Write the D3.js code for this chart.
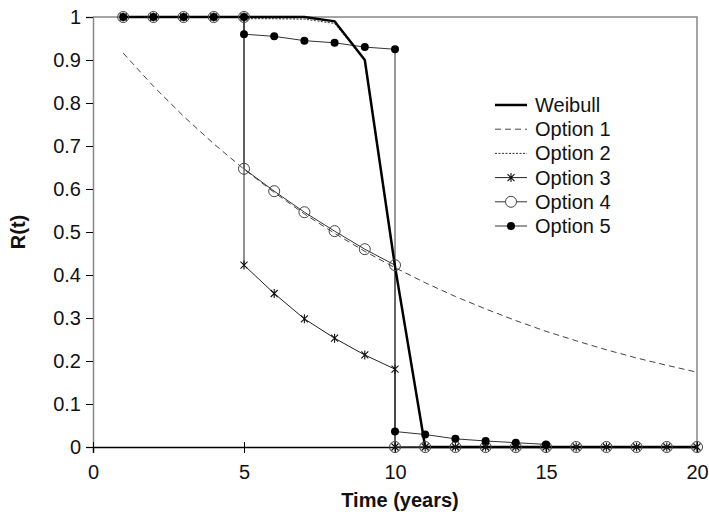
<!DOCTYPE html>
<html><head><meta charset="utf-8">
<script src="https://cdn.jsdelivr.net/npm/d3@7"></script>
<style>body{margin:0;background:#fff;} svg{display:block;font-family:"Liberation Sans",Arial,sans-serif;}</style>
</head><body><svg id="c" width="709" height="516"></svg>
<script>
// ---- data ----
const years = [1,2,3,4,5,6,7,8,9,10,11,12,13,14,15,16,17,18,19,20];
const weibull = [1,1,1,1,1,1,1,0.99,0.90,0.42,0,0,0,0,0,0,0,0,0,0];
const option1 = [0.916,0.839,0.769,0.705,0.646,0.592,0.542,0.497,0.455,0.417,0.382,0.350,0.321,0.294,0.269,0.247,0.226,0.207,0.190,0.174];
const option2T = [5,6,7,8,9,10,11,12,13,14,15,16,17,18,19,20];
const option2 = [0.996,0.996,0.995,0.985,0.90,0.42,0,0,0,0,0,0,0,0,0,0];
const option3T = [1,2,3,4,5,5,6,7,8,9,10,10,11,12,13,14,15,16,17,18,19,20];
const option3 = [1,1,1,1,1,0.423,0.357,0.298,0.253,0.214,0.181,0,0,0,0,0,0,0,0,0,0,0];
const option4T = [1,2,3,4,5,5,6,7,8,9,10,10,11,12,13,14,15,16,17,18,19,20];
const option4 = [1,1,1,1,1,0.647,0.595,0.546,0.502,0.460,0.423,0,0,0,0,0,0,0,0,0,0,0];
const option5T = [1,2,3,4,5,5,6,7,8,9,10,10,11,12,13,14,15];
const option5 = [1,1,1,1,1,0.960,0.955,0.945,0.940,0.930,0.925,0.036,0.029,0.019,0.014,0.010,0.006];
const xTicks = [0,5,10,15,20];
const yTicks = [0,0.1,0.2,0.3,0.4,0.5,0.6,0.7,0.8,0.9,1];
const legendLabels = ["Weibull","Option 1","Option 2","Option 3","Option 4","Option 5"];

// ---- layout ----
const svg = d3.select("#c");
const L=93, R=697, T=17, B=447;
const x = d3.scaleLinear().domain([0,20]).range([L,R]);
const y = d3.scaleLinear().domain([0,1]).range([B,T]);
const fs = 20;
const ff = "Liberation Sans, Arial, sans-serif";

// border top/right
svg.append("path").attr("d",`M${L},${T}H${R}V${B}`).attr("fill","none").attr("stroke","#888").attr("stroke-width",1.5);

// axes
const yAxis = svg.append("g").attr("transform",`translate(${L},0)`)
  .call(d3.axisLeft(y).tickValues(yTicks).tickSize(7).tickPadding(5).tickFormat(d=>String(+d.toFixed(1))));
yAxis.select(".domain").attr("stroke","#888").attr("stroke-width",1.5);
yAxis.selectAll(".tick line").attr("stroke","#000");
yAxis.selectAll("text").attr("font-size",fs).attr("fill","#111").style("font-family",ff);

const xAxis = svg.append("g").attr("transform",`translate(0,${B})`)
  .call(d3.axisBottom(x).tickValues(xTicks).tickSize(6).tickPadding(12).tickFormat(d3.format("d")));
xAxis.select(".domain").attr("stroke","#000").attr("stroke-width",1.5);
xAxis.selectAll(".tick line").attr("stroke","#000").attr("y1",-5);
xAxis.selectAll("text").attr("font-size",fs).attr("fill","#111").style("font-family",ff);

svg.append("text").attr("x",400).attr("y",507).attr("text-anchor","middle")
  .attr("font-size",fs).attr("font-weight","bold").attr("fill","#111").text("Time (years)");
svg.append("text").attr("transform",`translate(25,${(T+B)/2}) rotate(-90)`).attr("text-anchor","middle")
  .attr("font-size",fs).attr("font-weight","bold").attr("fill","#111").text("R(t)");

const line = d3.line().x(d=>x(d[0])).y(d=>y(d[1]));
const zip = (a,b)=>a.map((v,i)=>[v,b[i]]);

const series = [
  {pts: zip(years,option1), stroke:"#444", w:1, dash:"6,4"},
  {pts: zip(option3T,option3), stroke:"#222", w:1, dash:null},
  {pts: zip(option4T,option4), stroke:"#333", w:1, dash:null},
  {pts: zip(option5T,option5), stroke:"#333", w:1, dash:null},
  {pts: zip(option2T,option2), stroke:"#333", w:1, dash:"2,1.5"},
  {pts: zip(years,weibull), stroke:"#000", w:2.5, dash:null},
];
series.forEach(s=>{
  svg.append("path").attr("d",line(s.pts)).attr("fill","none").attr("stroke",s.stroke)
    .attr("stroke-width",s.w).attr("stroke-dasharray",s.dash);
});

function star(g,cx,cy,r){
  const p = `M${cx-r},${cy-r}L${cx+r},${cy+r}M${cx-r},${cy+r}L${cx+r},${cy-r}M${cx},${cy-r-1}L${cx},${cy+r+1}`;
  g.append("path").attr("d",p).attr("stroke","#111").attr("stroke-width",1.1).attr("fill","none");
}
const m = svg.append("g");
zip(option4T,option4).forEach(d=>m.append("circle").attr("cx",x(d[0])).attr("cy",y(d[1])).attr("r",5.5)
  .attr("fill","none").attr("stroke","#444").attr("stroke-width",1));
zip(option3T,option3).forEach(d=>star(m,x(d[0]),y(d[1]),3.5));
zip(option5T,option5).forEach(d=>m.append("circle").attr("cx",x(d[0])).attr("cy",y(d[1])).attr("r",4)
  .attr("fill","#000"));

// legend
const lg = svg.append("g");
const lx0=495, lx1=527, ly0=105, ldy=24.2;
const legStyles = [{s:"#000",w:2.5,d:null},{s:"#444",w:1,d:"6,4"},{s:"#333",w:1,d:"2,1.5"},{s:"#222",w:1,d:null},{s:"#333",w:1,d:null},{s:"#333",w:1,d:null}];
legendLabels.forEach((lab,i)=>{
  const yy = ly0 + i*ldy;
  const st = legStyles[i];
  lg.append("line").attr("x1",lx0).attr("x2",lx1).attr("y1",yy).attr("y2",yy)
    .attr("stroke",st.s).attr("stroke-width",st.w).attr("stroke-dasharray",st.d);
  const cx=(lx0+lx1)/2;
  if(i===3) star(lg,cx,yy,3.5);
  if(i===4) lg.append("circle").attr("cx",cx).attr("cy",yy).attr("r",5.5).attr("fill","#fff").attr("stroke","#444");
  if(i===5) lg.append("circle").attr("cx",cx).attr("cy",yy).attr("r",4).attr("fill","#000");
  lg.append("text").attr("x",lx1+8).attr("y",yy+7).attr("font-size",fs).attr("fill","#111").text(lab);
});
</script></body></html>
